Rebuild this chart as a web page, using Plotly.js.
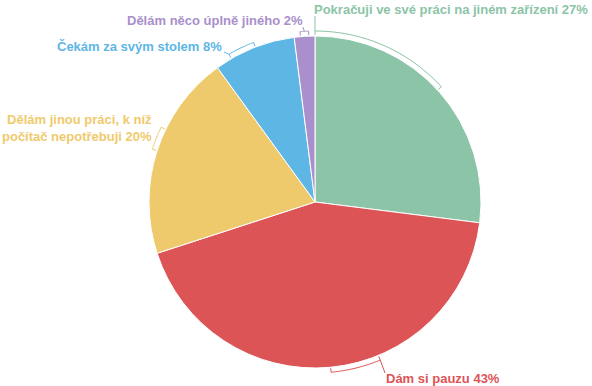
<!DOCTYPE html>
<html><head><meta charset="utf-8">
<script src="https://cdn.plot.ly/plotly-3.0.1.min.js"></script>
<style>body{margin:0;background:#fff}#chart{width:592px;height:386px}</style>
</head><body><div id="chart"></div>
<script>
// ---- data ----
const categories = [
  "Pokračuji ve své práci na jiném zařízení",
  "Dám si pauzu",
  "Dělám jinou práci, k níž<br>počítač nepotřebuji",
  "Čekám za svým stolem",
  "Dělám něco úplně jiného"
];
const values = [27, 43, 20, 8, 2];
const colors = ["#8cc4a7", "#dd5457", "#efca6c", "#5eb6e4", "#a98fcb"];

// ---- layout helpers (positions / styles) ----
const W = 592, H = 386, CX = 315, CY = 202, R = 166, BR = R + 5, TICK = 4;
const labelPos = [
  {x: 312, y: 10, xa: "left"},
  {x: 384, y: 378, xa: "left"},
  {x: 154, y: 128, xa: "right"},
  {x: 224, y: 47, xa: "right"},
  {x: 305, y: 21, xa: "right"}
];
const brackets = [
  {f0: 0.0, f1: 0.49, lead: 0.0, to: [315, 16]},
  {f0: 0.39, f1: 0.50, lead: 0.39, to: [385, 373]},
  {f0: 0.50, f1: 0.61, lead: null},
  {f0: 0.20, f1: 0.52, lead: 0.20, to: [224, 52]},
  {f0: 0.30, f1: 0.70, lead: 0.5, to: [303, 27]}
];

const total = values.reduce((a, b) => a + b, 0);
function px(theta, r) {
  const t = theta * Math.PI / 180;
  return [CX + r * Math.sin(t), CY - r * Math.cos(t)];
}
function toPaper(p) { return [p[0] / W, 1 - p[1] / H]; }
function seg(points) {
  return points.map((p, i) => {
    const q = toPaper(p);
    return (i ? "L" : "M") + q[0].toFixed(5) + "," + q[1].toFixed(5);
  }).join(" ");
}

const shapes = [], annotations = [];
let acc = 0;
values.forEach((v, i) => {
  const a0 = acc / total * 360, a1 = (acc + v) / total * 360;
  acc += v;
  const b = brackets[i];
  const t0 = a0 + (a1 - a0) * b.f0, t1 = a0 + (a1 - a0) * b.f1;
  const arc = [px(t0, BR - TICK)];
  const n = 24;
  for (let k = 0; k <= n; k++) arc.push(px(t0 + (t1 - t0) * k / n, BR));
  arc.push(px(t1, BR - TICK));
  shapes.push({type: "path", xref: "paper", yref: "paper", path: seg(arc),
    line: {color: colors[i], width: 1}});
  if (b.lead !== null) {
    const tl = a0 + (a1 - a0) * b.lead;
    shapes.push({type: "path", xref: "paper", yref: "paper",
      path: seg([px(tl, BR), b.to]), line: {color: colors[i], width: 1}});
  }
  const lp = labelPos[i];
  annotations.push({
    xref: "paper", yref: "paper", x: lp.x / W, y: 1 - lp.y / H,
    xanchor: lp.xa, yanchor: "middle", align: "right", showarrow: false,
    text: "<b>" + categories[i] + " " + v + "%</b>",
    font: {family: "Liberation Sans, Arial, sans-serif", size: 13, color: colors[i]}
  });
});

const trace = {
  type: "pie", labels: categories, values: values, sort: false,
  direction: "clockwise", rotation: 0, textinfo: "none", hoverinfo: "skip",
  marker: {colors: colors, line: {color: "#ffffff", width: 1}},
  domain: {x: [(CX - R) / W, (CX + R) / W], y: [(H - CY - R) / H, (H - CY + R) / H]},
  showlegend: false
};

Plotly.newPlot("chart", [trace], {
  width: W, height: H, margin: {l: 0, r: 0, t: 0, b: 0},
  paper_bgcolor: "#ffffff", plot_bgcolor: "#ffffff",
  shapes: shapes, annotations: annotations, showlegend: false
}, {staticPlot: true});
</script>
</body></html>
